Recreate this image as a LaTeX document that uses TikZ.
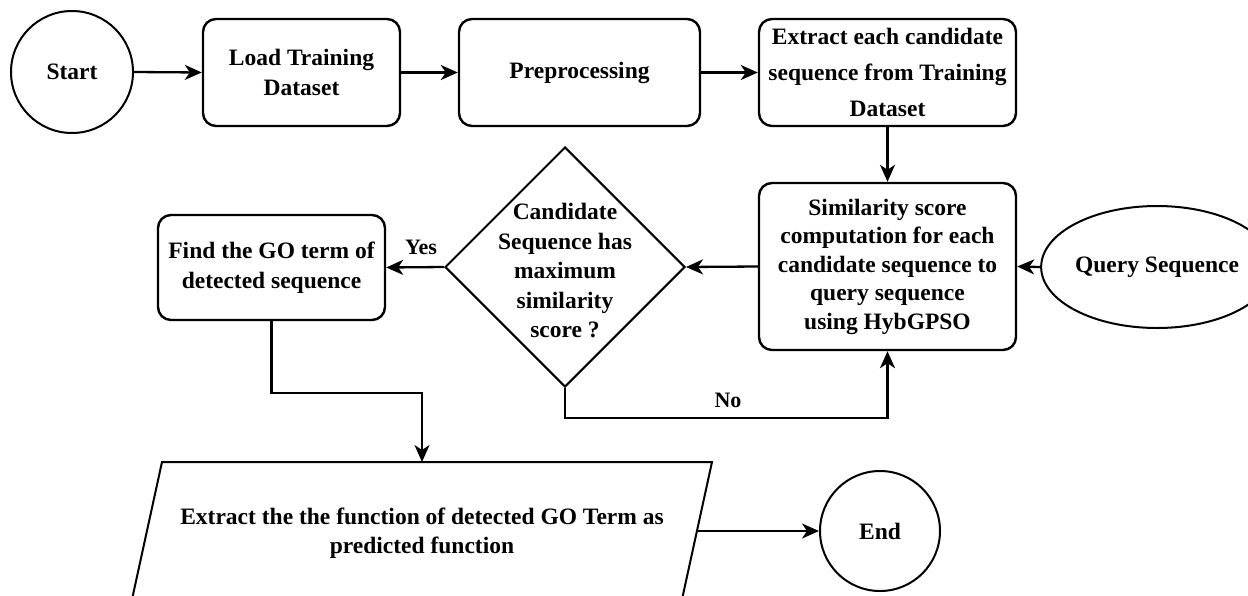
\documentclass[tikz,border=0pt]{standalone}
\usepackage{fontspec}
\setmainfont{Liberation Serif}
\usetikzlibrary{shapes.geometric,arrows.meta}
\begin{document}
\begin{tikzpicture}[x=1pt,y=-1pt,
  txt/.style={font=\fontsize{23.5}{29.5}\selectfont\bfseries, align=center, inner sep=0pt},
  proc/.style={txt, draw, line width=2.4pt, rounded corners=13pt},
  term/.style={txt, draw, line width=2pt, circle},
  arr/.style={line width=2.3pt, -{Stealth[length=17pt,width=15pt,inset=5pt]}},
  lbl/.style={font=\fontsize{22}{26}\selectfont\bfseries, inner sep=0pt}
]
\useasboundingbox (0,0) rectangle (1248,595);

\node[term, minimum size=122pt] (start) at (72,72) {Start};
\node[proc, minimum width=197pt, minimum height=107pt] (load) at (301.5,72.5) {Load Training\\Dataset};
\node[proc, minimum width=241pt, minimum height=107pt] (prep) at (579.5,72.5) {Preprocessing};
\node[proc, minimum width=257pt, minimum height=107pt, font=\fontsize{23.5}{36}\selectfont\bfseries] (extract) at (887.5,72.5) {Extract each candidate\\sequence from Training\\Dataset};
\node[proc, minimum width=257pt, minimum height=167pt, font=\fontsize{23.5}{28.5}\selectfont\bfseries] (sim) at (887.5,266.5) {Similarity score\\computation for each\\candidate sequence to\\query sequence\\using HybGPSO};
\node[txt, draw, line width=2pt, ellipse, minimum width=194pt, minimum height=122pt] (query) at (1157,267) {Query Sequence};
\node[draw, line width=2pt, diamond, minimum width=240pt, minimum height=240pt, inner sep=0pt] (dia) at (565,267) {};
\node[txt] (diatext) at (565,271) {Candidate\\Sequence has\\maximum\\similarity\\score ?};
\node[proc, minimum width=227pt, minimum height=105pt] (find) at (271.5,267.5) {Find the GO term of\\detected sequence};
\draw[line width=2pt] (162,462) -- (712,462) -- (681,604) -- (131,604) -- cycle;
\node[txt] (ptext) at (422,533) {Extract the the function of detected GO Term as\\predicted function};
\coordinate (ptop) at (422,462);
\coordinate (pright) at (697,531);
\node[term, minimum size=120pt] (end) at (880,531) {End};

\draw[arr] (start.east) -- (load.west);
\draw[arr] (load.east) -- (prep.west);
\draw[arr] (prep.east) -- (extract.west);
\draw[arr] (extract.south) -- (sim.north);
\draw[arr] (query.west) -- (sim.east);
\draw[arr] (sim.west) -- (dia.east);
\draw[arr] (dia.west) -- (find.east);
\node[lbl] (yes) at (421,247) {Yes};
\draw[arr] (dia.south) -- ++(0,30) -| (sim.south);
\node[lbl] (no) at (728,400) {No};
\draw[arr] (find.south) -- ++(0,72) -| (ptop);
\draw[arr] (pright) -- (end.west);
\end{tikzpicture}
\end{document}
